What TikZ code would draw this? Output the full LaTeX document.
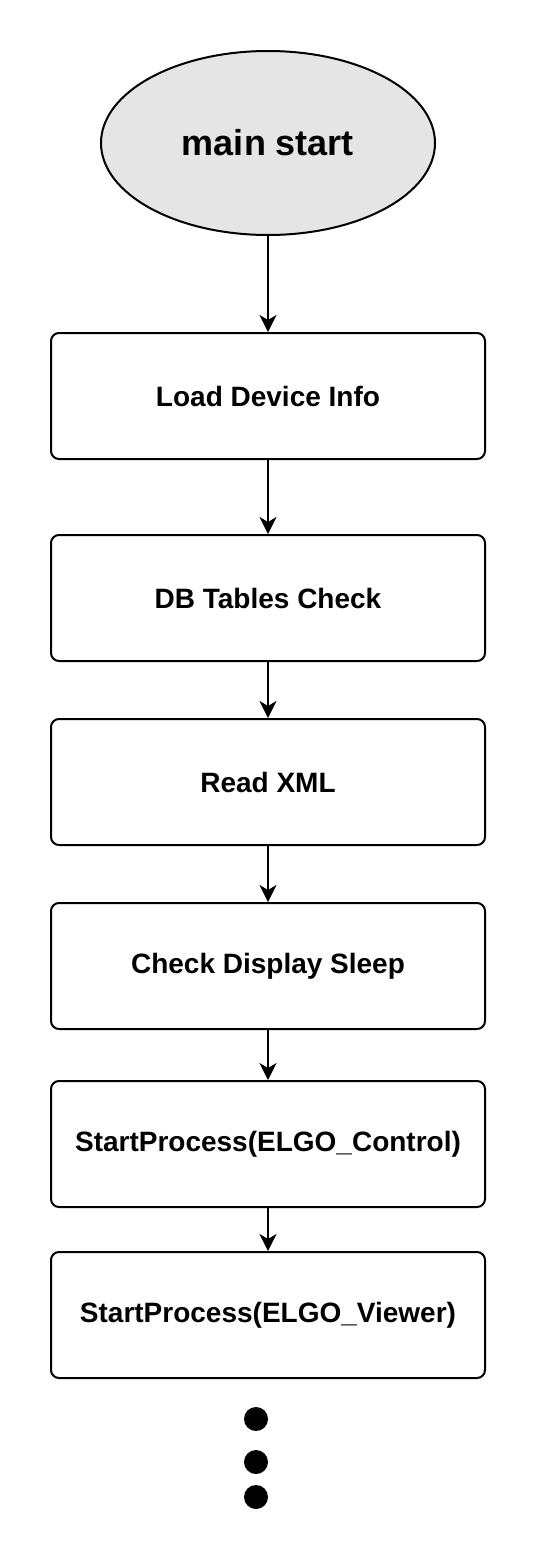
\documentclass[tikz,border=0pt]{standalone}
\usepackage{fontspec}
\setmainfont{Liberation Sans}
\usetikzlibrary{shapes.geometric,arrows.meta}
\tikzset{
  procbox/.style={draw=black, line width=2pt, rounded corners=8pt, minimum width=434pt, minimum height=126pt, inner sep=0pt, font=\fontsize{28}{32}\selectfont\bfseries, fill=white},
  startell/.style={draw=black, line width=2pt, ellipse, minimum width=334pt, minimum height=184pt, inner sep=0pt, fill=gray!20, font=\fontsize{36}{42}\selectfont\bfseries},
  flow/.style={line width=2pt, -{Stealth[length=17pt,width=17pt,inset=5pt]}},
  dotmark/.style={circle, fill=black, minimum size=24pt, inner sep=0pt}
}
\begin{document}
\begin{tikzpicture}[x=1pt,y=-1pt]
\useasboundingbox[fill=white] (0,0) rectangle (536,1560);
\node[startell] (s) at (268,143) {main start};
\node[procbox] (b1) at (268,396) {Load Device Info};
\node[procbox] (b2) at (268,598) {DB Tables Check};
\node[procbox] (b3) at (268,782) {Read XML};
\node[procbox] (b4) at (268,966) {Check Display Sleep};
\node[procbox] (b5) at (268,1144) {StartProcess(ELGO\_Control)};
\node[procbox] (b6) at (268,1315) {StartProcess(ELGO\_Viewer)};
\draw[flow] (s) -- (b1);
\draw[flow] (b1) -- (b2);
\draw[flow] (b2) -- (b3);
\draw[flow] (b3) -- (b4);
\draw[flow] (b4) -- (b5);
\draw[flow] (b5) -- (b6);
\node[dotmark] (d1) at (256,1419) {};
\node[dotmark] (d2) at (256,1462) {};
\node[dotmark] (d3) at (256,1497) {};
\end{tikzpicture}
\end{document}
